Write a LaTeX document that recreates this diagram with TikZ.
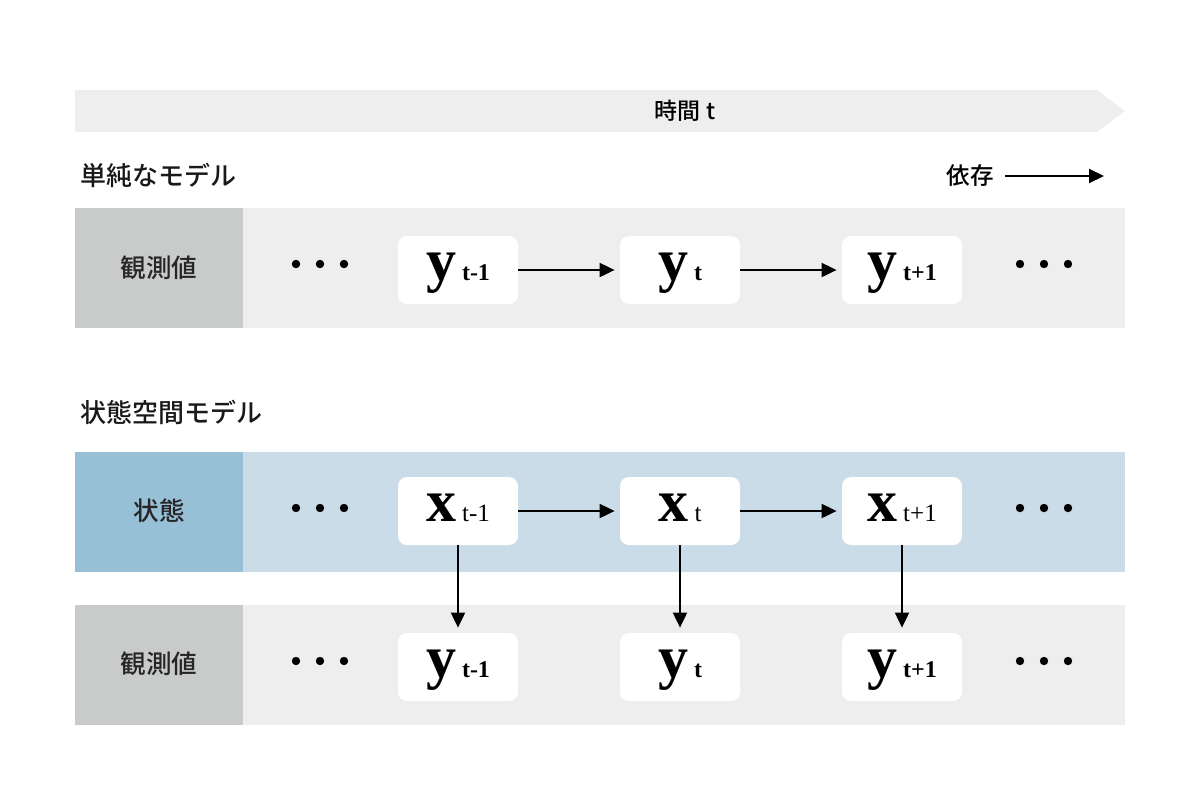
\documentclass[tikz,border=0pt]{standalone}
\usepackage{fontspec}
\setmainfont{Liberation Serif}
\newfontfamily\jp{Noto Sans CJK JP}[UprightFont={* Medium}]
\newfontfamily\varfont{Liberation Serif}[BoldFont={* Bold}]
\usetikzlibrary{arrows.meta}
\definecolor{bandgray}{HTML}{EEEEEE}
\definecolor{labgray}{HTML}{C9CACA}
\definecolor{labblue}{HTML}{97BFD6}
\definecolor{bandblue}{HTML}{C9DCE8}
\tikzset{
  varbox/.style={fill=white, rounded corners=4.5pt, minimum width=60pt, minimum height=34pt, inner sep=0pt, text height=10pt, text depth=0pt},
  dep/.style={-{Triangle[length=7.5pt,width=7pt]}, line width=1pt, black},
  rowlabel/.style={font=\jp\fontsize{12.8pt}{14pt}\selectfont, text=black!85},
  heading/.style={font=\jp\fontsize{13pt}{15pt}\selectfont, anchor=west, text=black!90, inner sep=0pt},
}
\newcommand{\varlabel}[2]{{\varfont\bfseries\fontsize{30pt}{32pt}\selectfont #1}\hspace{3pt}{\varfont\bfseries\fontsize{12pt}{14pt}\selectfont #2}}
\newcommand{\statelabel}[2]{{\varfont\bfseries\fontsize{30pt}{32pt}\selectfont #1}\hspace{3pt}{\varfont\fontsize{12.5pt}{14pt}\selectfont #2}}
\newcommand{\tridots}[2]{\foreach \dx in {0,24,48} \fill (#1+\dx,#2) circle (2.1pt);}
\begin{document}
\begin{tikzpicture}[x=0.5pt,y=-0.5pt]
\useasboundingbox (0,0) rectangle (1200,800);
% time banner
\fill[bandgray] (75,90) -- (1097,90) -- (1125,111) -- (1097,132) -- (75,132) -- cycle;
\node[font=\jp\fontsize{11.5pt}{13pt}\selectfont] (time) at (685,111) {時間 t};
% headings
\node[heading] (h1) at (80,175) {単純なモデル};
\node[heading] (h2) at (80,412) {状態空間モデル};
% legend
\node[font=\jp\fontsize{11.8pt}{13pt}\selectfont, anchor=east, inner sep=0pt] (legend) at (994,176) {依存};
\coordinate (lgA) at (1005,176);
\coordinate (lgB) at (1104,176);
\draw[dep] (lgA) -- (lgB);
% row 1 (simple model)
\fill[bandgray] (75,208) rectangle (1125,328);
\fill[labgray] (75,208) rectangle (243,328);
\node[rowlabel] (r1) at (159,268) {観測値};
\tridots{296}{264}
\tridots{1020}{264}
\node[varbox] (a1) at (458,270) {\varlabel{y}{t-1}};
\node[varbox] (a2) at (680,270) {\varlabel{y}{t}};
\node[varbox] (a3) at (902,270) {\varlabel{y}{t+1}};
\draw[dep] (a1.east) -- ([xshift=-2.5pt]a2.west);
\draw[dep] (a2.east) -- ([xshift=-2.5pt]a3.west);
% row 2 (state)
\fill[bandblue] (75,452) rectangle (1125,572);
\fill[labblue] (75,452) rectangle (243,572);
\node[rowlabel] (r2) at (159,511) {状態};
\tridots{296}{508}
\tridots{1020}{508}
\node[varbox] (x1) at (458,511) {\statelabel{x}{t-1}};
\node[varbox] (x2) at (680,511) {\statelabel{x}{t}};
\node[varbox] (x3) at (902,511) {\statelabel{x}{t+1}};
\draw[dep] (x1.east) -- ([xshift=-2.5pt]x2.west);
\draw[dep] (x2.east) -- ([xshift=-2.5pt]x3.west);
% row 3 (observation)
\fill[bandgray] (75,605) rectangle (1125,725);
\fill[labgray] (75,605) rectangle (243,725);
\node[rowlabel] (r3) at (159,664) {観測値};
\tridots{296}{661}
\tridots{1020}{661}
\node[varbox] (b1) at (458,667) {\varlabel{y}{t-1}};
\node[varbox] (b2) at (680,667) {\varlabel{y}{t}};
\node[varbox] (b3) at (902,667) {\varlabel{y}{t+1}};
\draw[dep] (x1.south) -- ([yshift=2.5pt]b1.north);
\draw[dep] (x2.south) -- ([yshift=2.5pt]b2.north);
\draw[dep] (x3.south) -- ([yshift=2.5pt]b3.north);
\end{tikzpicture}
\end{document}
